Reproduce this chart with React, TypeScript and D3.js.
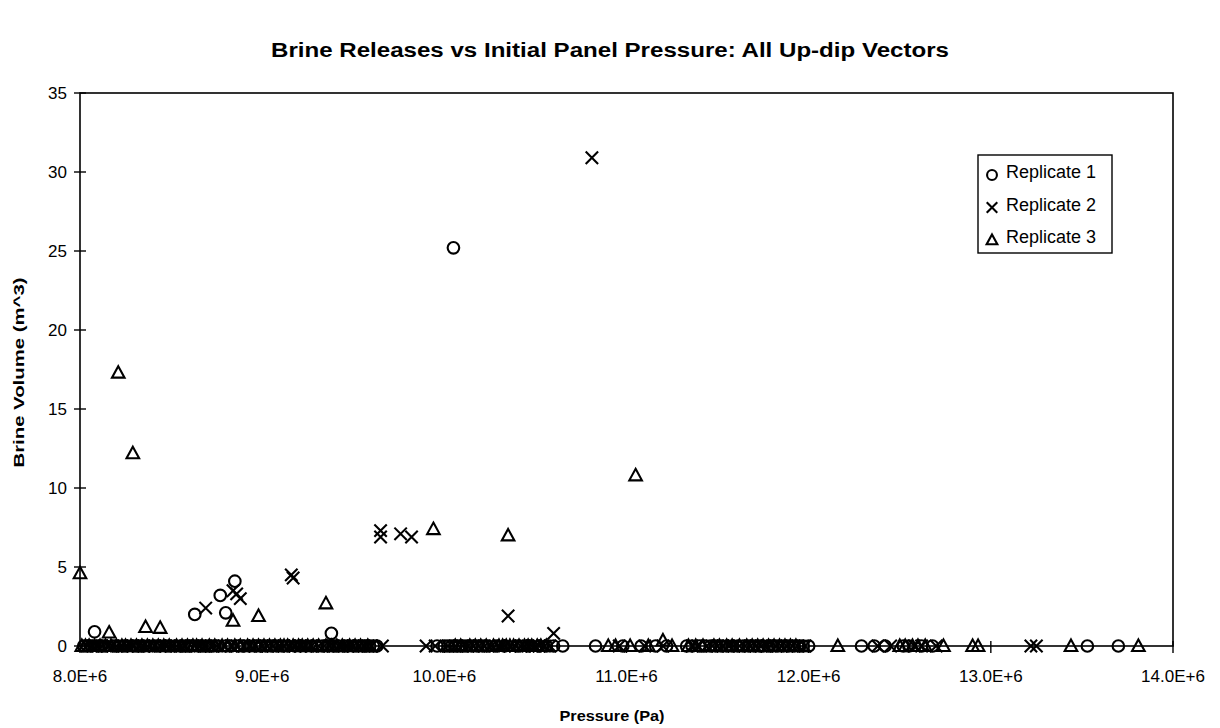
import * as d3 from 'd3';

const chartTitle = 'Brine Releases vs Initial Panel Pressure: All Up-dip Vectors';
const xTitle = 'Pressure (Pa)';
const yTitle = 'Brine Volume (m^3)';
const xTicks = [8e6, 9e6, 10e6, 11e6, 12e6, 13e6, 14e6];
const yTicks = [0, 5, 10, 15, 20, 25, 30, 35];
const seriesNames = ['Replicate 1', 'Replicate 2', 'Replicate 3'];

// releases above zero, [pressure (Pa), volume (m^3)]
const rep1Releases: [number, number][] = [
  [8.08e6, 0.9], [8.63e6, 2.0], [8.77e6, 3.2], [8.80e6, 2.1], [8.85e6, 4.1],
  [9.38e6, 0.8], [10.05e6, 25.2],
];
const rep2Releases: [number, number][] = [
  [8.69e6, 2.4], [8.84e6, 3.5], [8.86e6, 3.3], [8.88e6, 3.0], [9.16e6, 4.5],
  [9.17e6, 4.3], [9.65e6, 7.3], [9.65e6, 6.9], [9.76e6, 7.1], [9.82e6, 6.9],
  [10.35e6, 1.9], [10.60e6, 0.8], [10.81e6, 30.9],
];
const rep3Releases: [number, number][] = [
  [8.0e6, 4.6], [8.16e6, 0.85], [8.21e6, 17.3], [8.29e6, 12.2], [8.36e6, 1.2],
  [8.44e6, 1.15], [8.84e6, 1.6], [8.98e6, 1.9], [9.35e6, 2.7], [9.94e6, 7.4],
  [10.35e6, 7.0], [11.05e6, 10.8], [11.2e6, 0.35],
];

// pressures (MPa) of vectors with no release
const rep1ZeroMPa = [
  8.02, 8.04, 8.06, 8.10, 8.12, 8.14, 8.19, 8.21, 8.24, 8.26, 8.29, 8.31, 8.33, 8.35, 8.38,
  8.42, 8.44, 8.47, 8.49, 8.52, 8.55, 8.57, 8.59, 8.61, 8.65, 8.67, 8.69, 8.71, 8.73, 8.76,
  8.80, 8.83, 8.87, 8.90, 8.93, 8.96, 8.99, 9.02, 9.05, 9.08, 9.11, 9.14, 9.18, 9.21, 9.24,
  9.27, 9.30, 9.33, 9.36, 9.39, 9.42, 9.45, 9.47, 9.50, 9.52, 9.55, 9.57, 9.59, 9.61, 9.63,
  9.96, 10.00, 10.02, 10.04, 10.06, 10.08, 10.10, 10.12, 10.15, 10.18, 10.21, 10.24, 10.28,
  10.33, 10.40, 10.46, 10.52, 10.56, 10.60, 10.65, 10.83, 10.98, 11.08, 11.16, 11.22,
  11.33, 11.36, 11.40, 11.43, 11.46, 11.49, 11.52, 11.55, 11.58, 11.61, 11.64, 11.67, 11.70,
  11.73, 11.75, 11.78, 11.80, 11.83, 11.86, 11.89, 11.92, 11.95, 11.97, 12.00,
  12.29, 12.36, 12.42, 12.52, 12.55, 12.62, 12.68, 13.53, 13.70,
];
const rep2ZeroMPa = [
  8.04, 8.07, 8.09, 8.12, 8.15, 8.18, 8.20, 8.23, 8.26, 8.29, 8.32, 8.35, 8.37, 8.41, 8.44,
  8.47, 8.50, 8.53, 8.55, 8.58, 8.63, 8.66, 8.68, 8.72, 8.75, 8.79, 8.83, 8.86, 8.90, 8.93,
  8.96, 9.00, 9.03, 9.06, 9.09, 9.12, 9.15, 9.18, 9.21, 9.24, 9.27, 9.31, 9.34, 9.37, 9.39,
  9.42, 9.44, 9.47, 9.50, 9.53, 9.56, 9.58, 9.60, 9.66,
  9.90, 9.95, 10.02, 10.06, 10.10, 10.13, 10.16, 10.19, 10.22, 10.26, 10.30, 10.33, 10.36,
  10.39, 10.42, 10.44, 10.46, 10.48, 10.50, 10.52, 10.55, 10.58, 10.96, 11.10, 11.20,
  11.36, 11.39, 11.44, 11.47, 11.50, 11.53, 11.56, 11.59, 11.62, 11.65, 11.68, 11.71, 11.74,
  11.77, 11.82, 11.85, 11.88, 11.91, 11.94, 11.98,
  12.38, 12.45, 12.58, 12.62, 12.70, 13.22, 13.25,
];
const rep3ZeroMPa = [
  8.01, 8.03, 8.05, 8.08, 8.11, 8.14, 8.17, 8.20, 8.23, 8.25, 8.28, 8.31, 8.34, 8.37, 8.40,
  8.43, 8.46, 8.49, 8.53, 8.56, 8.59, 8.62, 8.64, 8.67, 8.71, 8.74, 8.78, 8.81, 8.85, 8.88,
  8.92, 8.95, 8.98, 9.01, 9.04, 9.07, 9.10, 9.12, 9.14, 9.17, 9.20, 9.22, 9.25, 9.28, 9.31,
  9.35, 9.38, 9.41, 9.44, 9.48, 9.51, 9.54, 9.58,
  10.06, 10.09, 10.14, 10.17, 10.20, 10.23, 10.27, 10.30, 10.32, 10.34, 10.36, 10.38, 10.41,
  10.44, 10.46, 10.48, 10.51, 10.53, 10.56, 10.90, 10.94, 11.02, 11.12, 11.25,
  11.34, 11.38, 11.42, 11.48, 11.51, 11.55, 11.58, 11.62, 11.66, 11.69, 11.72, 11.75, 11.78,
  11.81, 11.84, 11.87, 11.90, 11.93,
  12.16, 12.50, 12.53, 12.57, 12.60, 12.64, 12.74, 12.90, 12.93, 13.44, 13.81,
];

type Shape = 'circle' | 'cross' | 'triangle';
const shapes: Shape[] = ['circle', 'cross', 'triangle'];

const zeroPoints = (mpa: number[]) => mpa.map((p) => [p * 1e6, 0] as [number, number]);
const series = [
  [...zeroPoints(rep1ZeroMPa), ...rep1Releases],
  [...zeroPoints(rep2ZeroMPa), ...rep2Releases],
  [...zeroPoints(rep3ZeroMPa), ...rep3Releases],
];

const W = 1220;
const H = 728;
const margin = { left: 80, right: 47, top: 93, bottom: 82 };
const font = 'Arial, "Liberation Sans", sans-serif';

function Marker({ shape, x, y, k = 1 }: { shape: Shape; x: number; y: number; k?: number }) {
  if (shape === 'circle') {
    return <circle cx={x} cy={y} r={5.8 * k} fill="none" stroke="#000" strokeWidth={2.1} />;
  }
  if (shape === 'cross') {
    const s = 6.2 * k;
    return (
      <path d={`M${x - s},${y - s}L${x + s},${y + s}M${x - s},${y + s}L${x + s},${y - s}`}
        stroke="#000" strokeWidth={2.1} fill="none" />
    );
  }
  return (
    <path d={`M${x},${y - 6.5 * k}L${x + 6.3 * k},${y + 5 * k}L${x - 6.3 * k},${y + 5 * k}Z`}
      fill="none" stroke="#000" strokeWidth={2.1} strokeLinejoin="miter" />
  );
}

export default function App() {
  const x = d3.scaleLinear().domain([8e6, 14e6]).range([margin.left, W - margin.right]);
  const y = d3.scaleLinear().domain([0, 35]).range([H - margin.bottom, margin.top]);
  const [x0, x1] = x.range();
  const [yb, yt] = y.range();

  return (
    <svg width={W} height={H} style={{ position: 'absolute', left: 0, top: 0, background: '#fff' }}
      fontFamily={font}>
      <rect width={W} height={H} fill="#fff" />
      <text x={610} y={57} textAnchor="middle" fontSize={20} fontWeight="bold"
        textLength={678} lengthAdjust="spacingAndGlyphs">{chartTitle}</text>

      {/* plot frame */}
      <rect x={x0} y={yt} width={x1 - x0} height={yb - yt} fill="none" stroke="#000" strokeWidth={1.6} />

      {yTicks.map((t) => (
        <g key={`y${t}`}>
          <line x1={x0 - 6} x2={x0 + 6} y1={y(t)} y2={y(t)} stroke="#000" strokeWidth={1.4} />
          <text x={67} y={y(t)} dy="0.35em" textAnchor="end" fontSize={17}>{t}</text>
        </g>
      ))}
      {xTicks.map((t) => (
        <g key={`x${t}`}>
          <line x1={x(t)} x2={x(t)} y1={yb - 5} y2={yb + 7} stroke="#000" strokeWidth={1.4} />
          <text x={x(t)} y={yb + 36} textAnchor="middle" fontSize={17}>
            {`${(t / 1e6).toFixed(1)}E+6`}
          </text>
        </g>
      ))}

      <text x={612} y={721} textAnchor="middle" fontSize={15} fontWeight="bold"
        textLength={105} lengthAdjust="spacingAndGlyphs">{xTitle}</text>
      <text transform={`translate(24,${(yt + yb) / 2 + 3}) rotate(-90)`} textAnchor="middle"
        fontSize={15} fontWeight="bold" textLength={190} lengthAdjust="spacingAndGlyphs">{yTitle}</text>

      {series.map((pts, i) => (
        <g key={`s${i}`}>
          {pts.map(([p, v], j) => (
            <Marker key={j} shape={shapes[i]} x={x(p)} y={y(v)} />
          ))}
        </g>
      ))}

      {/* legend */}
      <g>
        <rect x={978} y={155} width={134} height={98} fill="#fff" stroke="#000" strokeWidth={1.4} />
        {seriesNames.map((name, i) => {
          const cy = 172 + i * 32.5;
          return (
            <g key={name}>
              <Marker shape={shapes[i]} x={992} y={cy + 3} k={0.85} />
              <text x={1006} y={cy} dy="0.35em" fontSize={18}>{name}</text>
            </g>
          );
        })}
      </g>
    </svg>
  );
}
